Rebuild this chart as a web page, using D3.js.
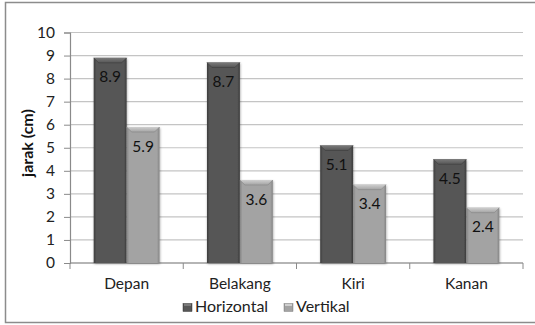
<!DOCTYPE html>
<html>
<head>
<meta charset="utf-8">
<script src="https://cdn.jsdelivr.net/npm/d3@7/dist/d3.min.js"></script>
<style>
  html, body { margin: 0; padding: 0; background: #fff; }
  svg { display: block; font-family: Lato, "Open Sans", sans-serif; }
</style>
</head>
<body>
<svg id="chart" width="535" height="325"></svg>
<script>
// Chart data
const categories = ["Depan", "Belakang", "Kiri", "Kanan"];
const seriesNames = ["Horizontal", "Vertikal"];
const horizontalValues = [8.9, 8.7, 5.1, 4.5];
const vertikalValues = [5.9, 3.6, 3.4, 2.4];
const yTicks = [0, 1, 2, 3, 4, 5, 6, 7, 8, 9, 10];
const yTitle = "jarak (cm)";

const seriesValues = [horizontalValues, vertikalValues];
const seriesColors = [
  { base: "#565656", light: "#7a7a7a", dark: "#3c3c3c", label: "#111" },
  { base: "#a3a3a3", light: "#cfcfcf", dark: "#848484", label: "#111" }
];
const FS = 15.5;

const svg = d3.select("#chart");

// Outer frame
svg.append("rect")
  .attr("x", 5.5).attr("y", 2.5)
  .attr("width", 540).attr("height", 320)
  .attr("fill", "none").attr("stroke", "#8c8c8c").attr("stroke-width", 1.5);

const plot = { left: 70, right: 523, top: 32.5, bottom: 263 };

const x0 = d3.scaleBand()
  .domain(categories)
  .range([plot.left, plot.right])
  .padding(0);

const x1 = d3.scaleBand()
  .domain(seriesNames)
  .range([0, x0.bandwidth()])
  .paddingInner(0)
  .paddingOuter(0.72);

const y = d3.scaleLinear()
  .domain([0, 10])
  .range([plot.bottom, plot.top]);

// Gradients for bar bodies
const defs = svg.append("defs");
seriesColors.forEach((c, i) => {
  const g = defs.append("linearGradient")
    .attr("id", "body" + i).attr("x1", "0").attr("x2", "1").attr("y1", "0").attr("y2", "0");
  g.append("stop").attr("offset", "0").attr("stop-color", c.dark);
  g.append("stop").attr("offset", "0.08").attr("stop-color", c.base);
  g.append("stop").attr("offset", "0.92").attr("stop-color", c.base);
  g.append("stop").attr("offset", "1").attr("stop-color", c.dark);
  const t = defs.append("linearGradient")
    .attr("id", "top" + i).attr("x1", "0").attr("x2", "0").attr("y1", "0").attr("y2", "1");
  t.append("stop").attr("offset", "0").attr("stop-color", c.light);
  t.append("stop").attr("offset", "1").attr("stop-color", c.base);
});
const shadow = defs.append("filter").attr("id", "shadow")
  .attr("x", "-20%").attr("y", "-10%").attr("width", "140%").attr("height", "130%");
shadow.append("feDropShadow")
  .attr("dx", 0.5).attr("dy", 1).attr("stdDeviation", 1)
  .attr("flood-color", "#000").attr("flood-opacity", 0.35);

// Horizontal gridlines
svg.append("g")
  .selectAll("line")
  .data(yTicks)
  .join("line")
  .attr("x1", plot.left).attr("x2", plot.right)
  .attr("y1", d => y(d)).attr("y2", d => y(d))
  .attr("stroke", "#c4c4c4").attr("stroke-width", 1.2);

// Y axis
const yAxis = svg.append("g")
  .attr("transform", `translate(${plot.left},0)`)
  .call(d3.axisLeft(y).tickValues(yTicks).tickSize(6).tickPadding(9));
yAxis.select(".domain").attr("stroke", "#8a8a8a").attr("stroke-width", 1.2);
yAxis.selectAll(".tick line").attr("stroke", "#8a8a8a");
yAxis.selectAll(".tick text")
  .attr("font-size", FS).attr("fill", "#222")
  .attr("font-family", "Lato, 'Open Sans', sans-serif");

// X axis
const xAxis = svg.append("g")
  .attr("transform", `translate(0,${plot.bottom})`)
  .call(d3.axisBottom(x0).tickSize(0).tickPadding(15));
xAxis.select(".domain").remove();
xAxis.append("line")
  .attr("x1", plot.left).attr("x2", plot.right)
  .attr("stroke", "#8a8a8a").attr("stroke-width", 1.2);
xAxis.selectAll(".tick text")
  .attr("font-size", FS).attr("fill", "#222")
  .attr("font-family", "Lato, 'Open Sans', sans-serif");
// Category boundary ticks
xAxis.append("g").selectAll("line")
  .data(categories.map(c => x0(c)).concat([plot.right]))
  .join("line")
  .attr("x1", d => d).attr("x2", d => d)
  .attr("y1", 0).attr("y2", 6)
  .attr("stroke", "#8a8a8a");

// Y axis title
svg.append("text")
  .attr("transform", "translate(33,143) rotate(-90)")
  .attr("text-anchor", "middle")
  .attr("font-size", 16).attr("font-weight", "bold").attr("fill", "#111")
  .text(yTitle);

// Bars
const rows = categories.map((c, ci) => ({
  category: c,
  values: seriesNames.map((s, si) => ({ series: s, si, value: seriesValues[si][ci] }))
}));

const groups = svg.append("g")
  .selectAll("g")
  .data(rows)
  .join("g")
  .attr("transform", d => `translate(${x0(d.category)},0)`);

const bars = groups.selectAll("g.bar")
  .data(d => d.values)
  .join("g").attr("class", "bar");

bars.append("rect")
  .attr("x", d => x1(d.series))
  .attr("y", d => y(d.value))
  .attr("width", x1.bandwidth())
  .attr("height", d => y(0) - y(d.value))
  .attr("fill", d => `url(#body${d.si})`)
  .attr("filter", "url(#shadow)");

// Bevelled top
const bev = 5;
bars.append("path")
  .attr("d", d => {
    const xa = x1(d.series), xb = xa + x1.bandwidth(), yt = y(d.value);
    return `M${xa},${yt} L${xb},${yt} L${xb - bev},${yt + bev} L${xa + bev},${yt + bev} Z`;
  })
  .attr("fill", d => `url(#top${d.si})`);
bars.append("path")
  .attr("d", d => {
    const xa = x1(d.series), xb = xa + x1.bandwidth(), yt = y(d.value);
    return `M${xa},${yt} L${xa + bev},${yt + bev} L${xb - bev},${yt + bev} L${xb},${yt}`;
  })
  .attr("fill", "none")
  .attr("stroke", d => seriesColors[d.si].dark)
  .attr("stroke-width", 0.6);

// Value labels inside the bars
bars.append("text")
  .attr("x", d => x1(d.series) + x1.bandwidth() / 2)
  .attr("y", d => y(d.value) + 24.5)
  .attr("text-anchor", "middle")
  .attr("font-size", FS)
  .attr("fill", d => seriesColors[d.si].label)
  .text(d => d.value.toFixed(1));

// Legend
const legendX = [183, 284];
const legend = svg.append("g").selectAll("g")
  .data(seriesNames.map((name, si) => ({ name, si, x: legendX[si] })))
  .join("g")
  .attr("transform", d => `translate(${d.x},302)`);
legend.append("rect")
  .attr("width", 9).attr("height", 8).attr("y", 1.5)
  .attr("fill", d => `url(#body${d.si})`)
  .attr("stroke", d => seriesColors[d.si].dark).attr("stroke-width", 0.5);
legend.append("rect")
  .attr("x", 1).attr("y", 2).attr("width", 7).attr("height", 2)
  .attr("fill", d => seriesColors[d.si].light);
legend.append("text")
  .attr("x", 12).attr("y", 10)
  .attr("font-size", 16).attr("fill", "#222")
  .text(d => d.name);
</script>
</body>
</html>
